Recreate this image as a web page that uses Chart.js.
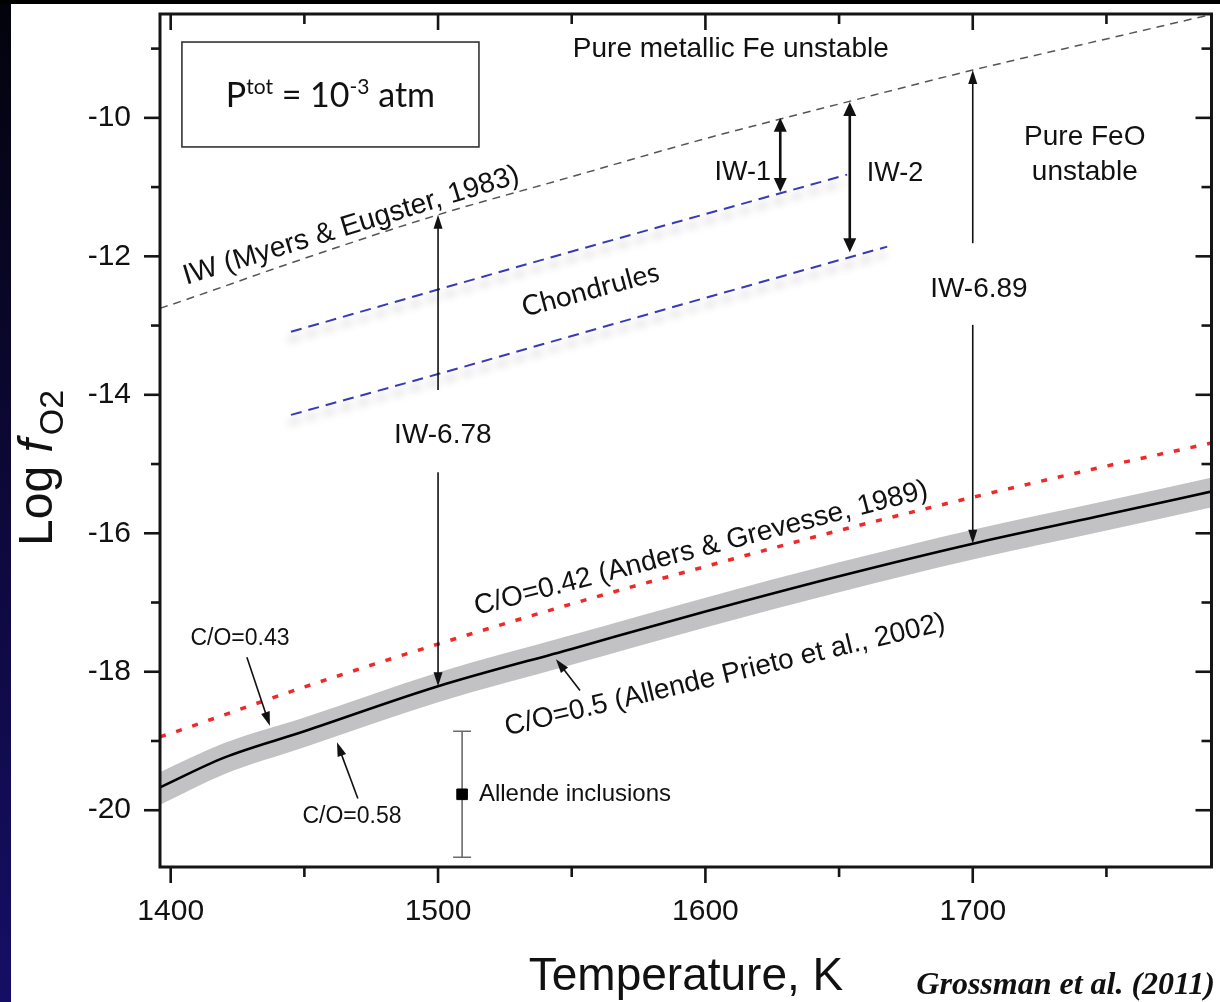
<!DOCTYPE html>
<html><head><meta charset="utf-8">
<script src="https://cdn.jsdelivr.net/npm/chart.js@4.4.1/dist/chart.umd.min.js"></script>
<style>html,body{margin:0;padding:0;background:#000;overflow:hidden}#wrap{position:absolute;left:0;top:0;width:1220px;height:1002px}</style>
</head><body><div id="wrap"><canvas id="c" width="1220" height="1002"></canvas></div>
<script>
// ---- data (Temperature in K, log fO2) ----
const xTickValues = [1400, 1500, 1600, 1700];
const xMinorTicks = [1450, 1550, 1650, 1750];
const yTickValues = [-20, -18, -16, -14, -12, -10];
const yMinorTicks = [-19, -17, -15, -13, -11, -9];

const iwT   = [1396, 1400, 1450, 1500, 1550, 1600, 1650, 1700, 1750, 1790];
const iwLog = [-12.75, -12.70, -12.03, -11.40, -10.85, -10.30, -9.80, -9.31, -8.86, -8.50];

const co42T   = [1396, 1400, 1450, 1500, 1550, 1600, 1650, 1700, 1750, 1790];
const co42Log = [-18.94, -18.89, -18.22, -17.60, -17.02, -16.48, -15.96, -15.48, -15.03, -14.69];

const co50T   = [1396, 1420, 1450, 1500, 1550, 1600, 1650, 1700, 1750, 1790];
const co50Log = [-19.67, -19.24, -18.86, -18.21, -17.67, -17.13, -16.62, -16.15, -15.73, -15.39];
const co43Log = [-19.45, -19.03, -18.66, -18.01, -17.47, -16.93, -16.42, -15.95, -15.53, -15.19];
const co58Log = [-19.92, -19.48, -19.09, -18.44, -17.90, -17.36, -16.85, -16.38, -15.96, -15.62];

const chondUpT   = [1445, 1500, 1550, 1600, 1653];
const chondUpLog = [-13.09, -12.48, -11.93, -11.39, -10.82];
const chondLoT   = [1445, 1500, 1550, 1600, 1668];
const chondLoLog = [-14.29, -13.70, -13.15, -12.60, -11.86];

const allendeT = [1509];
const allendeLog = [-19.77];
const allendeErrLow = [-20.68];
const allendeErrHigh = [-18.86];

// arrows: [T1, log1, T2, log2, doubleHeaded]
const arrowList = [
  [1500, -13.93, 1500, -11.40, false],
  [1500, -15.12, 1500, -18.21, false],
  [1700, -11.81, 1700, -9.31, false],
  [1700, -12.99, 1700, -16.15, false],
  [1628, -11.07, 1628, -10.00, true],
  [1654, -11.94, 1654, -9.77, true],
  [1428.5, -17.79, 1437.1, -18.78, false],
  [1470.0, -19.83, 1462.2, -19.02, false],
  [1553.1, -18.27, 1544.1, -17.82, false]
];

// text labels: [text, T, log, angleDeg, size, align, family]
const SANS = '"Liberation Sans", Arial, Helvetica, sans-serif';
const CAL = 'Lato, "Open Sans", sans-serif';
const labelList = [
  ['Pure metallic Fe unstable', 1609.5, -9.12, 0, 28, 'center', SANS],
  ['Pure FeO', 1741.9, -10.39, 0, 28, 'center', SANS],
  ['unstable', 1741.9, -10.90, 0, 28, 'center', SANS],
  ['IW-1', 1614.0, -10.90, 0, 27, 'center', SANS],
  ['IW-2', 1670.9, -10.91, 0, 27, 'center', SANS],
  ['IW-6.78', 1501.8, -14.70, 0, 28, 'center', SANS],
  ['IW-6.89', 1702.3, -12.59, 0, 28, 'center', SANS],
  ['C/O=0.43', 1425.9, -17.62, 0, 23, 'center', SANS],
  ['C/O=0.58', 1467.8, -20.18, 0, 23, 'center', SANS],
  ['Allende inclusions', 1515.3, -19.86, 0, 24, 'left', SANS],
  ['IW (Myers & Eugster, 1983)', 1468.4, -11.67, -17, 28.5, 'center', SANS],
  ['C/O=0.42 (Anders & Grevesse, 1989)', 1599.1, -16.33, -14.6, 28, 'center', SANS],
  ['C/O=0.5 (Allende Prieto et al., 2002)', 1608.0, -18.16, -13.5, 28, 'center', SANS],
  ['Chondrules', 1557.9, -12.61, -15, 28, 'center', CAL]
];

// ---- plugins ----
const bgPlugin = {
  id: 'bg',
  beforeDraw(chart) {
    const ctx = chart.ctx;
    ctx.save();
    const g = ctx.createLinearGradient(0, 0, 0, 1002);
    g.addColorStop(0, '#03030c'); g.addColorStop(1, '#160e66');
    ctx.fillStyle = g; ctx.fillRect(0, 0, 1220, 1002);
    ctx.fillStyle = '#000'; ctx.fillRect(0, 0, 1220, 4);
    ctx.fillStyle = '#fff'; ctx.fillRect(11, 4, 1209, 998);
    ctx.restore();
  }
};

const shadowPlugin = {
  id: 'shadowLines',
  beforeDatasetDraw(chart, args) {
    const ds = chart.data.datasets[args.index];
    if (ds.blurShadow) {
      const ctx = chart.ctx; ctx.save();
      ctx.shadowColor = 'rgba(0,0,0,0.38)'; ctx.shadowBlur = 9; ctx.shadowOffsetY = 8; ctx.shadowOffsetX = -2;
    }
  },
  afterDatasetDraw(chart, args) {
    const ds = chart.data.datasets[args.index];
    if (ds.blurShadow) chart.ctx.restore();
  }
};

function drawHead(ctx, xf, yf, xt, yt, len, hw) {
  const a = Math.atan2(yt - yf, xt - xf);
  ctx.beginPath();
  ctx.moveTo(xt, yt);
  ctx.lineTo(xt - len * Math.cos(a) + hw * Math.sin(a), yt - len * Math.sin(a) - hw * Math.cos(a));
  ctx.lineTo(xt - len * Math.cos(a) - hw * Math.sin(a), yt - len * Math.sin(a) + hw * Math.cos(a));
  ctx.closePath(); ctx.fill();
}

const errPlugin = {
  id: 'errbars',
  beforeDatasetsDraw(chart) {
    const { ctx, scales: { x, y } } = chart;
    ctx.save(); ctx.strokeStyle = '#6a6a6a'; ctx.lineWidth = 1.6;
    allendeT.forEach((t, i) => {
      const px = x.getPixelForValue(t), y1 = y.getPixelForValue(allendeErrLow[i]), y2 = y.getPixelForValue(allendeErrHigh[i]);
      ctx.beginPath(); ctx.moveTo(px, y1); ctx.lineTo(px, y2);
      ctx.moveTo(px - 9, y1); ctx.lineTo(px + 9, y1);
      ctx.moveTo(px - 9, y2); ctx.lineTo(px + 9, y2); ctx.stroke();
    });
    ctx.restore();
  }
};

const annoPlugin = {
  id: 'anno',
  afterDraw(chart) {
    const { ctx, chartArea: a, scales: { x, y } } = chart;
    ctx.save();
    // frame
    ctx.strokeStyle = '#151515'; ctx.lineWidth = 3;
    ctx.strokeRect(a.left, a.top, a.right - a.left, a.bottom - a.top);
    ctx.lineWidth = 2.6;
    const seg = (x1, y1, x2, y2) => { ctx.beginPath(); ctx.moveTo(x1, y1); ctx.lineTo(x2, y2); ctx.stroke(); };
    xTickValues.forEach(v => { const p = x.getPixelForValue(v); seg(p, a.bottom, p, a.bottom + 16); seg(p, a.top, p, a.top + 16); });
    xMinorTicks.forEach(v => { const p = x.getPixelForValue(v); seg(p, a.bottom, p, a.bottom + 10); seg(p, a.top, p, a.top + 10); });
    yTickValues.forEach(v => { const p = y.getPixelForValue(v); seg(a.left - 16, p, a.left, p); seg(a.right - 16, p, a.right, p); });
    yMinorTicks.forEach(v => { const p = y.getPixelForValue(v); seg(a.left - 9, p, a.left, p); seg(a.right - 10, p, a.right, p); });

    // arrows
    ctx.fillStyle = '#111'; ctx.strokeStyle = '#111';
    arrowList.forEach(([t1, l1, t2, l2, dbl]) => {
      const x1 = x.getPixelForValue(t1), y1 = y.getPixelForValue(l1), x2 = x.getPixelForValue(t2), y2 = y.getPixelForValue(l2);
      const w = dbl ? 2.6 : 1.6, len = dbl ? 14 : 14, hw = dbl ? 6.5 : 4.5;
      ctx.lineWidth = w;
      const ang = Math.atan2(y2 - y1, x2 - x1);
      const sx = dbl ? x1 + (len - 2) * Math.cos(ang) : x1, sy = dbl ? y1 + (len - 2) * Math.sin(ang) : y1;
      seg(sx, sy, x2 - (len - 2) * Math.cos(ang), y2 - (len - 2) * Math.sin(ang));
      drawHead(ctx, x1, y1, x2, y2, len, hw);
      if (dbl) drawHead(ctx, x2, y2, x1, y1, len, hw);
    });

    // text labels
    ctx.fillStyle = '#111'; ctx.textBaseline = 'alphabetic';
    labelList.forEach(([txt, t, l, ang, size, align, fam]) => {
      const px = x.getPixelForValue(t), py = y.getPixelForValue(l);
      ctx.save(); ctx.translate(px, py); ctx.rotate(ang * Math.PI / 180);
      ctx.font = size + 'px ' + fam; ctx.textAlign = align;
      ctx.fillText(txt, 0, 0); ctx.restore();
    });

    // pressure box
    const bx1 = x.getPixelForValue(1404.2), bx2 = x.getPixelForValue(1515.3);
    const by1 = y.getPixelForValue(-8.905), by2 = y.getPixelForValue(-10.42);
    ctx.fillStyle = '#fff'; ctx.fillRect(bx1, by1, bx2 - bx1, by2 - by1);
    ctx.strokeStyle = '#333'; ctx.lineWidth = 1.6; ctx.strokeRect(bx1, by1, bx2 - bx1, by2 - by1);
    const parts = [['P', 34, 0], ['tot', 21, -13], [' = 10', 34, 0], ['-3', 21, -13], [' atm', 34, 0]];
    let total = 0;
    parts.forEach(p => { ctx.font = p[1] + 'px ' + CAL; total += ctx.measureText(p[0]).width; });
    let cx = (bx1 + bx2) / 2 - total / 2; const base = by1 + 65;
    ctx.fillStyle = '#111'; ctx.textAlign = 'left';
    parts.forEach(p => { ctx.font = p[1] + 'px ' + CAL; ctx.fillText(p[0], cx, base + p[2]); cx += ctx.measureText(p[0]).width; });

    // axis titles
    ctx.font = '46px ' + SANS; ctx.textAlign = 'center';
    ctx.fillText('Temperature, K', 686, 990);
    ctx.save(); ctx.translate(52, 546); ctx.rotate(-Math.PI / 2); ctx.textAlign = 'left';
    let ox = 0;
    ctx.font = '48px ' + SANS; ctx.fillText('Log ', ox, 0); ox += ctx.measureText('Log ').width;
    ctx.font = 'italic 48px ' + SANS; ctx.fillText('f', ox, 0); ox += ctx.measureText('f').width + 4;
    ctx.font = '34px ' + SANS; ctx.fillText('O2', ox, 11);
    ctx.restore();

    // citation
    ctx.font = 'bold italic 32px "Liberation Serif", "Times New Roman", serif'; ctx.textAlign = 'right';
    ctx.fillText('Grossman et al. (2011)', 1215, 994);
    ctx.restore();
  }
};

const pts = (xs, ys) => xs.map((v, i) => ({ x: v, y: ys[i] }));
const zeroPad = s => { s.paddingTop = 0; s.paddingBottom = 0; s.paddingLeft = 0; s.paddingRight = 0; };

new Chart(document.getElementById('c'), {
  type: 'scatter',
  data: {
    datasets: [
      { label: 'C/O=0.58', data: pts(co50T, co58Log), showLine: true, borderWidth: 0, pointRadius: 0, fill: false, order: 10 },
      { label: 'C/O=0.43', data: pts(co50T, co43Log), showLine: true, borderWidth: 0, pointRadius: 0, fill: '-1', backgroundColor: '#c2c2c4', order: 9 },
      { label: 'IW', data: pts(iwT, iwLog), showLine: true, borderColor: '#555', borderWidth: 1.5, borderDash: [8, 6], pointRadius: 0, order: 5 },
      { label: 'C/O=0.42', data: pts(co42T, co42Log), showLine: true, borderColor: '#f02828', borderWidth: 3.5, borderDash: [6, 11], pointRadius: 0, order: 4 },
      { label: 'C/O=0.5', data: pts(co50T, co50Log), showLine: true, borderColor: '#000', borderWidth: 2.6, pointRadius: 0, order: 3 },
      { label: 'Chondrules upper', data: pts(chondUpT, chondUpLog), showLine: true, borderColor: '#3a3ab4', borderWidth: 2, borderDash: [11, 7], pointRadius: 0, blurShadow: true, order: 6 },
      { label: 'Chondrules lower', data: pts(chondLoT, chondLoLog), showLine: true, borderColor: '#3a3ab4', borderWidth: 2, borderDash: [11, 7], pointRadius: 0, blurShadow: true, order: 6 },
      { label: 'Allende inclusions', data: pts(allendeT, allendeLog), showLine: false, pointStyle: 'rect', pointRadius: 7.5, backgroundColor: '#000', borderColor: '#000', order: 1 }
    ]
  },
  options: {
    responsive: false, animation: false,
    layout: { padding: { top: 14, right: 8, left: 0, bottom: 0 } },
    plugins: { legend: { display: false }, tooltip: { enabled: false } },
    elements: { line: { tension: 0.35, cubicInterpolationMode: 'monotone' } },
    scales: {
      x: {
        type: 'linear', min: 1396, max: 1789.3,
        afterBuildTicks: s => { s.ticks = xTickValues.map(v => ({ value: v })); },
        afterFit: s => { s.height = 135; zeroPad(s); },
        grid: { display: false, drawTicks: false }, border: { display: false },
        ticks: { font: { family: SANS, size: 30 }, color: '#111', padding: 27, maxRotation: 0, autoSkip: false, callback: v => String(v) }
      },
      y: {
        type: 'linear', min: -20.82, max: -8.5,
        afterBuildTicks: s => { s.ticks = yTickValues.map(v => ({ value: v })); },
        afterFit: s => { s.width = 160; zeroPad(s); },
        grid: { display: false, drawTicks: false }, border: { display: false },
        ticks: { font: { family: SANS, size: 30 }, color: '#111', padding: 29, autoSkip: false, callback: v => String(v) }
      }
    }
  },
  plugins: [bgPlugin, shadowPlugin, errPlugin, annoPlugin]
});
</script></body></html>
